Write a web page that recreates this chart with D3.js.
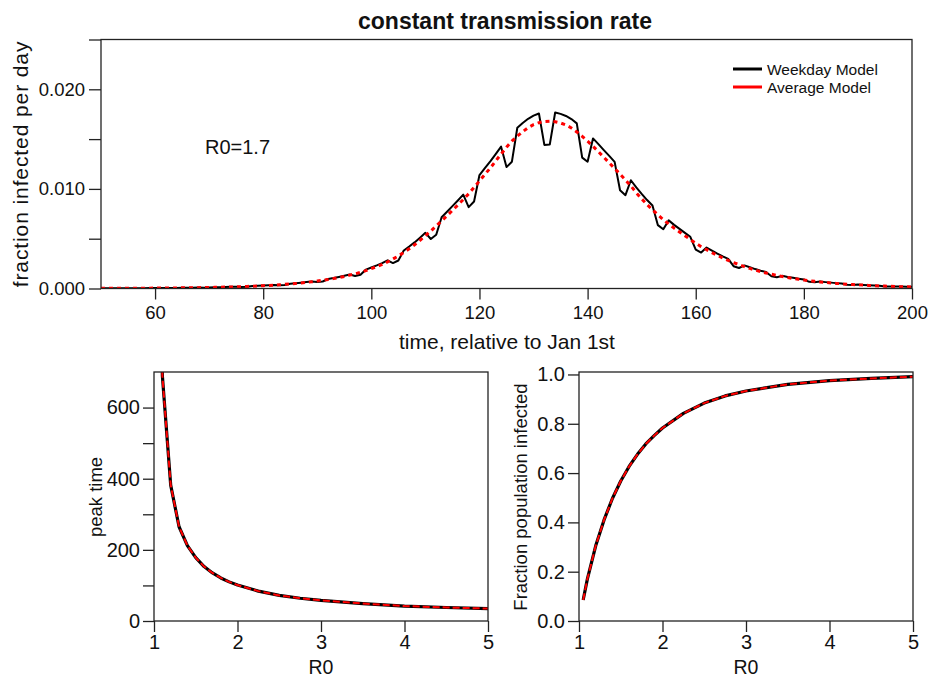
<!DOCTYPE html>
<html>
<head>
<meta charset="utf-8">
<script src="https://cdn.jsdelivr.net/npm/d3@7/dist/d3.min.js"></script>
<style>
  body { margin: 0; background: #fff; }
  svg text { font-family: "Liberation Sans", Arial, Helvetica, sans-serif; fill: #111; }
</style>
</head>
<body>
<svg id="chart" width="929" height="677"></svg>
<script>
// ---- Daily infection fraction, days 50..200 ----
const firstDay = 50;
const weekdayModel = [
  0.000016, 0.000018, 0.000019, 0.000021, 0.000023, 0.000021, 0.000023, 0.000032, 0.000035, 0.000038,
  0.000042, 0.000046, 0.000041, 0.000046, 0.000062, 0.000069, 0.000075, 0.000083, 0.000092, 0.000083,
  0.000090, 0.000122, 0.000135, 0.000149, 0.000165, 0.000181, 0.000163, 0.000180, 0.000243, 0.000268,
  0.000295, 0.000326, 0.000359, 0.000323, 0.000356, 0.000481, 0.000531, 0.000586, 0.000646, 0.000712,
  0.000641, 0.000706, 0.000955, 0.00105, 0.00116, 0.00128, 0.00141, 0.00126, 0.00139, 0.00190,
  0.00211, 0.00232, 0.00255, 0.00283, 0.00255, 0.00281, 0.00382, 0.00421, 0.00463, 0.00510,
  0.00559, 0.00497, 0.00540, 0.00716, 0.00771, 0.00827, 0.00884, 0.00942, 0.00817, 0.00873,
  0.01139, 0.01208, 0.01277, 0.01350, 0.01424, 0.01219, 0.01273, 0.01614, 0.01662, 0.01704,
  0.01735, 0.01757, 0.01442, 0.01445, 0.01767, 0.01753, 0.01732, 0.01701, 0.01658, 0.01314,
  0.01273, 0.01507, 0.01450, 0.01390, 0.01331, 0.01271, 0.00987, 0.00937, 0.01087, 0.01015,
  0.00950, 0.00888, 0.00833, 0.00636, 0.00595, 0.00684, 0.00639, 0.00599, 0.00559, 0.00519,
  0.00391, 0.00361, 0.00411, 0.00380, 0.00350, 0.00323, 0.00298, 0.00224, 0.00206, 0.00232,
  0.00213, 0.00195, 0.00179, 0.00165, 0.00123, 0.00113, 0.00127, 0.00116, 0.00107, 0.00098,
  0.00090, 0.00067, 0.00062, 0.00070, 0.00064, 0.00059, 0.00054, 0.00050, 0.00037, 0.00034,
  0.00039, 0.00036, 0.00033, 0.00030, 0.00027, 0.00021, 0.00019, 0.00021, 0.00019, 0.00018,
  0.00017
];
const averageModel = [
  0.000015, 0.000017, 0.000018, 0.000020, 0.000022, 0.000024, 0.000027, 0.000030, 0.000033, 0.000036,
  0.000040, 0.000044, 0.000048, 0.000053, 0.000059, 0.000065, 0.000071, 0.000079, 0.000087, 0.000096,
  0.000105, 0.000116, 0.000128, 0.000141, 0.000156, 0.000172, 0.000189, 0.000209, 0.000230, 0.000254,
  0.000280, 0.000309, 0.000340, 0.000375, 0.000414, 0.000456, 0.000503, 0.000555, 0.000612, 0.000675,
  0.000745, 0.000821, 0.000905, 0.000998, 0.00110, 0.00121, 0.00134, 0.00147, 0.00162, 0.00180,
  0.00200, 0.00220, 0.00242, 0.00268, 0.00296, 0.00327, 0.00362, 0.00399, 0.00439, 0.00483,
  0.00530, 0.00578, 0.00628, 0.00679, 0.00731, 0.00784, 0.00838, 0.00893, 0.00950, 0.01015,
  0.01080, 0.01145, 0.01210, 0.01280, 0.01350, 0.01418, 0.01480, 0.01530, 0.01575, 0.01615,
  0.01645, 0.01665, 0.01677, 0.01680, 0.01675, 0.01662, 0.01642, 0.01612, 0.01572, 0.01528,
  0.01480, 0.01428, 0.01374, 0.01318, 0.01262, 0.01205, 0.01148, 0.01090, 0.01030, 0.00962,
  0.00900, 0.00842, 0.00790, 0.00740, 0.00692, 0.00648, 0.00606, 0.00568, 0.00530, 0.00492,
  0.00455, 0.00420, 0.00390, 0.00360, 0.00332, 0.00306, 0.00282, 0.00260, 0.00240, 0.00220,
  0.00202, 0.00185, 0.00170, 0.00156, 0.00143, 0.00131, 0.00120, 0.00110, 0.00101, 0.00093,
  0.00085, 0.00078, 0.00072, 0.00066, 0.00061, 0.00056, 0.00051, 0.00047, 0.00043, 0.00040,
  0.00037, 0.00034, 0.00031, 0.00028, 0.00026, 0.00024, 0.00022, 0.00020, 0.00018, 0.00017,
  0.00016
];

// ---- Sweep over R0 ----
const r0Values = [1.05, 1.1, 1.2, 1.3, 1.4, 1.5, 1.6, 1.7, 1.8, 1.9, 2.0, 2.25, 2.5, 2.75, 3.0, 3.5, 4.0, 4.5, 5.0];
const peakTimeWeekday = [1350, 690, 382, 265, 212, 178, 153, 135, 121, 110, 101, 84, 72, 64, 58, 49, 42, 38, 35];
const peakTimeAverage = [1350, 690, 382, 265, 212, 178, 153, 135, 121, 110, 101, 84, 72, 64, 58, 49, 42, 38, 35];
const attackWeekday = [0.085, 0.17, 0.305, 0.41, 0.497, 0.568, 0.627, 0.676, 0.718, 0.752, 0.783, 0.842, 0.884, 0.913, 0.933, 0.96, 0.975, 0.984, 0.991];
const attackAverage = [0.085, 0.17, 0.305, 0.41, 0.497, 0.568, 0.627, 0.676, 0.718, 0.752, 0.783, 0.842, 0.884, 0.913, 0.933, 0.96, 0.975, 0.984, 0.991];

// ---- Tick settings ----
const topXTicks = [60, 80, 100, 120, 140, 160, 180, 200];
const topYTicks = [0, 0.005, 0.010, 0.015, 0.020, 0.025];
const topYLabeled = [0, 0.010, 0.020];
const r0Ticks = [1, 2, 3, 4, 5];
const peakTicks = [0, 100, 200, 300, 400, 500, 600];
const peakLabeled = [0, 200, 400, 600];
const attackTicks = [0, 0.2, 0.4, 0.6, 0.8, 1.0];

const svg = d3.select("#chart");
const AXIS = "#222";
const FONT = "Liberation Sans, Arial, Helvetica, sans-serif";

function styleAxis(g, fs) {
  g.selectAll(".domain").remove();
  g.selectAll(".tick line").attr("stroke", AXIS).attr("stroke-width", 1.3);
  g.selectAll("text").attr("font-family", FONT).attr("font-size", fs).attr("fill", "#111");
  g.attr("font-family", null).attr("font-size", null);
}

function frame(x0, x1, y0, y1) {
  svg.append("rect")
    .attr("x", x0).attr("y", y1)
    .attr("width", x1 - x0).attr("height", y0 - y1)
    .attr("fill", "none").attr("stroke", AXIS).attr("stroke-width", 1.3);
}

function clipRect(id, x0, x1, y0, y1) {
  svg.append("clipPath").attr("id", id).append("rect")
    .attr("x", x0).attr("y", y1).attr("width", x1 - x0).attr("height", y0 - y1);
}

// ================= Top panel: daily fraction infected =================
const xTop = d3.scaleLinear().domain([50, 200]).range([101, 912]);
const yTop = d3.scaleLinear().domain([0, 0.025]).range([288.5, 39.5]);
clipRect("clipTop", 101, 912, 288.5, 39.5);

const dayLine = d3.line()
  .x((d, i) => xTop(firstDay + i))
  .y(d => yTop(d));

const topLines = svg.append("g").attr("clip-path", "url(#clipTop)");
topLines.append("path").datum(weekdayModel)
  .attr("d", dayLine).attr("fill", "none")
  .attr("stroke", "#000").attr("stroke-width", 2).attr("stroke-linejoin", "round");
topLines.append("path").datum(averageModel)
  .attr("d", dayLine).attr("fill", "none")
  .attr("stroke", "#f00").attr("stroke-width", 3).attr("stroke-dasharray", "4,4");

frame(101, 912, 288.5, 39.5);

svg.append("g").attr("transform", "translate(0,288.5)")
  .call(d3.axisBottom(xTop).tickValues(topXTicks).tickSize(11).tickSizeOuter(0).tickPadding(6))
  .call(g => styleAxis(g, 18.5));

svg.append("g").attr("transform", "translate(101,0)")
  .call(d3.axisLeft(yTop).tickValues(topYTicks).tickSize(12).tickSizeOuter(0).tickPadding(4)
    .tickFormat(d => topYLabeled.some(v => Math.abs(v - d) < 1e-9) ? d3.format(".3f")(d) : ""))
  .call(g => styleAxis(g, 18.5));

svg.append("text")
  .attr("x", 505).attr("y", 29).attr("text-anchor", "middle")
  .attr("font-size", 23).attr("font-weight", "bold")
  .text("constant transmission rate");

svg.append("text")
  .attr("x", 507).attr("y", 349).attr("text-anchor", "middle")
  .attr("font-size", 21)
  .text("time, relative to Jan 1st");

svg.append("text")
  .attr("transform", "translate(28,164) rotate(-90)")
  .attr("text-anchor", "middle")
  .attr("font-size", 21).attr("letter-spacing", "0.9px")
  .text("fraction infected per day");

svg.append("text")
  .attr("x", 205).attr("y", 154).attr("font-size", 20)
  .text("R0=1.7");

// legend
const legend = [
  { label: "Weekday Model", color: "#000", y: 69 },
  { label: "Average Model", color: "#f00", y: 87 }
];
const lg = svg.append("g");
lg.selectAll("line").data(legend).join("line")
  .attr("x1", 733).attr("x2", 762)
  .attr("y1", d => d.y).attr("y2", d => d.y)
  .attr("stroke", d => d.color).attr("stroke-width", 3);
lg.selectAll("text").data(legend).join("text")
  .attr("x", 767).attr("y", d => d.y + 5.5)
  .attr("font-size", 15.5)
  .text(d => d.label);

// ================= Bottom panels =================
function r0Panel(opts) {
  const x = d3.scaleLinear().domain([1, 5]).range([opts.x0, opts.x1]);
  const y = d3.scaleLinear().domain(opts.yDomain).range([621, 372]);
  clipRect(opts.id, opts.x0, opts.x1, 621, 372);
  const line = d3.line().x((d, i) => x(r0Values[i])).y(d => y(d));
  const g = svg.append("g").attr("clip-path", `url(#${opts.id})`);
  g.append("path").datum(opts.black).attr("d", line).attr("fill", "none")
    .attr("stroke", "#000").attr("stroke-width", 3.2).attr("stroke-linejoin", "round");
  g.append("path").datum(opts.red).attr("d", line).attr("fill", "none")
    .attr("stroke", "#f00").attr("stroke-width", 2).attr("stroke-dasharray", "7,3");
  frame(opts.x0, opts.x1, 621, 372);

  svg.append("g").attr("transform", "translate(0,621)")
    .call(d3.axisBottom(x).tickValues(r0Ticks).tickSize(11).tickSizeOuter(0).tickPadding(3)
      .tickFormat(d3.format("d")))
    .call(g => styleAxis(g, 20));
  svg.append("g").attr("transform", `translate(${opts.x0},0)`)
    .call(d3.axisLeft(y).tickValues(opts.yTicks).tickSize(11).tickSizeOuter(0).tickPadding(3)
      .tickFormat(opts.fmt))
    .call(g => styleAxis(g, 20));

  svg.append("text")
    .attr("x", (opts.x0 + opts.x1) / 2).attr("y", 674).attr("text-anchor", "middle")
    .attr("font-size", 19.5).text("R0");
  svg.append("text")
    .attr("transform", `translate(${opts.labelX},497) rotate(-90)`)
    .attr("text-anchor", "middle").attr("font-size", 18.5)
    .text(opts.label);
}

r0Panel({
  id: "clipPeak", x0: 154, x1: 488, yDomain: [0, 700],
  yTicks: peakTicks,
  fmt: d => peakLabeled.includes(d) ? String(d) : "",
  black: peakTimeWeekday, red: peakTimeAverage,
  label: "peak time", labelX: 102
});

r0Panel({
  id: "clipAttack", x0: 579, x1: 913, yDomain: [0, 1.01],
  yTicks: attackTicks,
  fmt: d3.format(".1f"),
  black: attackWeekday, red: attackAverage,
  label: "Fraction population infected", labelX: 527
});
</script>
</body>
</html>
